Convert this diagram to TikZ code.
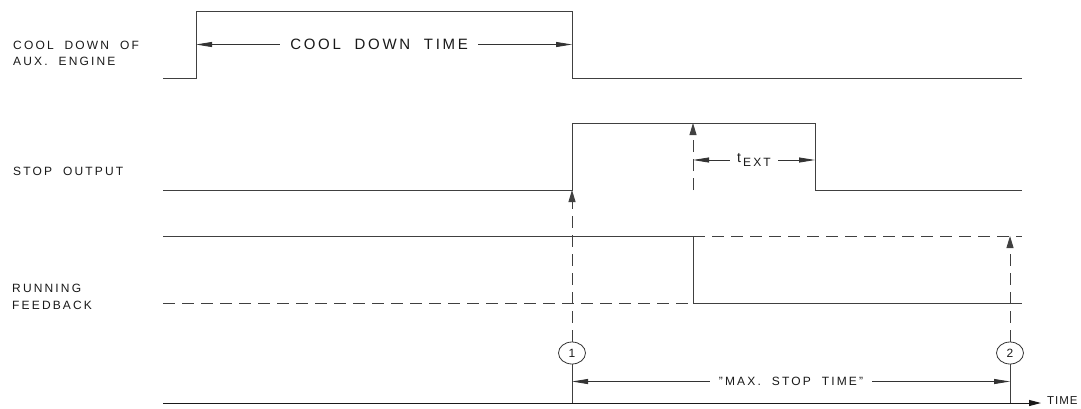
\documentclass[tikz,border=0pt]{standalone}
\usepackage{fontspec}
\setmainfont{Liberation Sans}[LetterSpace=18,WordSpace=2]
\usetikzlibrary{arrows.meta,shapes.geometric}
\begin{document}
\begin{tikzpicture}[x=1pt,y={(0pt,-1pt)},
  sig/.style={line width=0.9pt,draw=black!75},
  dsig/.style={sig,dash pattern=on 12pt off 7pt},
  lbl/.style={anchor=west,font=\fontsize{12}{14}\selectfont,inner sep=0pt,text=black!90},
  dimline/.style={line width=0.8pt,draw=black!80,{Triangle[length=16pt,width=5pt]}-{Triangle[length=16pt,width=5pt]}},
  dimtxt/.style={fill=white,inner xsep=9pt,inner ysep=1pt,font=\fontsize{12}{14}\selectfont,text=black!90},
  uparr/.style={dsig,-{Triangle[length=12pt,width=7pt]}},
  numcirc/.style={ellipse,draw=black!80,line width=0.8pt,minimum width=27pt,minimum height=22pt,inner sep=0pt,font=\fontsize{12}{14}\selectfont,text=black!90},
  axisline/.style={line width=1pt,draw=black!90,-{Triangle[length=12pt,width=6pt]}}
]
\useasboundingbox (0,0) rectangle (1081,408);

% labels
\node[lbl] (l1) at (13,45) {COOL DOWN OF};
\node[lbl] (l2) at (13,61.5) {AUX. ENGINE};
\node[lbl] (l3) at (13,171) {STOP OUTPUT};
\node[lbl] (l4) at (12,288) {RUNNING};
\node[lbl] (l5) at (12,305) {FEEDBACK};

% cool down signal
\draw[sig] (163,78) -- (196,78) -- (196,11) -- (572,11) -- (572,78) -- (1022,78);
\coordinate (cdA) at (196,44.5);
\coordinate (cdB) at (572,44.5);
\draw[dimline] (cdA) -- (cdB) node[pos=0.487,dimtxt,inner xsep=10pt,font=\fontsize{15}{17}\selectfont] (cdt) {COOL DOWN TIME};

% stop output
\draw[sig] (163,190) -- (572,190) -- (572,123) -- (815,123) -- (815,190) -- (1022,190);
\coordinate (teB) at (693,190);
\coordinate (teT) at (693,123);
\draw[uparr] (teB) -- (teT);
\coordinate (teL) at (693,160);
\coordinate (teR) at (815,160);
\draw[dimline] (teL) -- (teR) node[midway,dimtxt,inner xsep=7pt] (tet) {{\fontsize{14}{16}\selectfont t}\,\raisebox{-3.5pt}{EXT}};

% running feedback
\draw[sig] (163,236) -- (693,236) -- (693,303) -- (1022,303);
\draw[dsig] (163,303) -- (693,303);
\draw[dsig] (693,236) -- (1022,236);

% events
\node[numcirc] (c1) at (572,353) {1};
\node[numcirc] (c2) at (1010,353) {2};
\coordinate (c1t) at (572,190);
\coordinate (c2t) at (1010,236);
\draw[uparr] (c1.north) -- (c1t);
\draw[uparr] (c2.north) -- (c2t);

% time axis
\coordinate (ax0) at (163,403);
\coordinate (ax1) at (1041,403);
\coordinate (c1b) at (572,403);
\coordinate (c2b) at (1010,403);
\draw[sig] (c1.south) -- (c1b);
\draw[sig] (c2.south) -- (c2b);
\draw[axisline] (ax0) -- (ax1);
\node[lbl,font=\fontsize{11.5}{13}\selectfont\addfontfeature{LetterSpace=8}] (tm) at (1047,401) {TIME};

% max stop time
\coordinate (msA) at (572,381.5);
\coordinate (msB) at (1010,381.5);
\draw[dimline] (msA) -- (msB) node[midway,dimtxt] (mst) {"MAX. STOP TIME"};
\end{tikzpicture}
\end{document}
